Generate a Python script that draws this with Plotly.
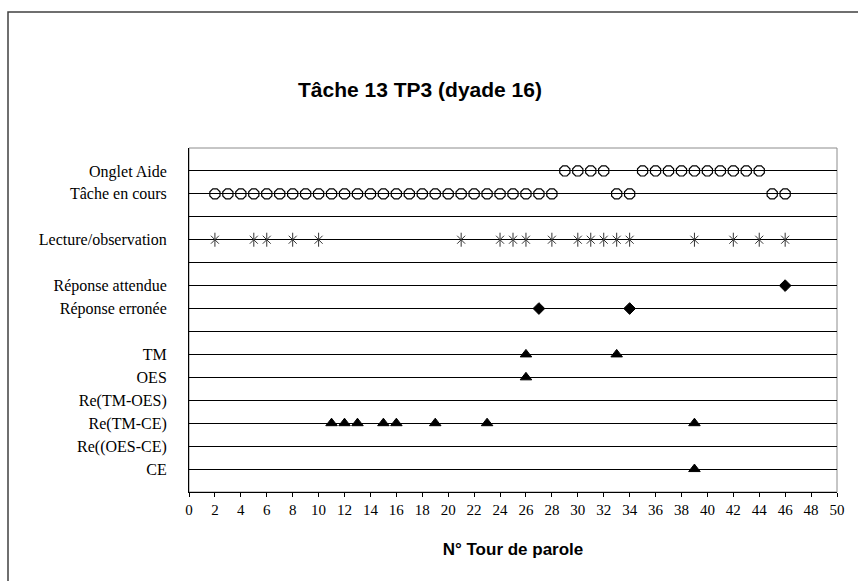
import plotly.graph_objects as go

# Rows of the chart, top to bottom; empty strings are spacer rows
ROWS = [
    "Onglet Aide",
    "Tâche en cours",
    "",
    "Lecture/observation",
    "",
    "Réponse attendue",
    "Réponse erronée",
    "",
    "TM",
    "OES",
    "Re(TM-OES)",
    "Re(TM-CE)",
    "Re((OES-CE)",
    "CE",
]

# Speaking turns (N° Tour de parole) at which each event occurs
onglet_aide = [29, 30, 31, 32, 35, 36, 37, 38, 39, 40, 41, 42, 43, 44]
tache_en_cours = list(range(2, 29)) + [33, 34, 45, 46]
lecture_observation = [2, 5, 6, 8, 10, 21, 24, 25, 26, 28, 30, 31, 32, 33, 34, 39, 42, 44, 46]
reponse_attendue = [46]
reponse_erronee = [27, 34]
tm = [26, 33]
oes = [26]
re_tm_oes = []
re_tm_ce = [11, 12, 13, 15, 16, 19, 23, 39]
re_oes_ce = []
ce = [39]

X_TICKS = list(range(0, 51, 2))

row_y = {name: len(ROWS) - i for i, name in enumerate(ROWS) if name}

W, H = 858, 581
ML, MR, MT, MB = 189, 21, 148, 89
plot_w = W - ML - MR
plot_h = H - MT - MB

fig = go.Figure()


def add_row(xs, row, symbol, size, color="black", line_w=1, line_color=None):
    fig.add_trace(go.Scatter(
        x=xs,
        y=[row_y[row]] * len(xs),
        mode="markers",
        name=row,
        marker=dict(symbol=symbol, size=size, color=color,
                    line=dict(width=line_w, color=line_color or color)),
        showlegend=False,
        hoverinfo="x+name",
    ))


add_row(onglet_aide, "Onglet Aide", "octagon-open", 11, line_w=1.2)
add_row(tache_en_cours, "Tâche en cours", "octagon-open", 11, line_w=1.2)
# six-armed asterisk: an x with a vertical stroke
add_row(lecture_observation, "Lecture/observation", "x-thin-open", 8, color="#333333", line_w=1)
add_row(lecture_observation, "Lecture/observation", "line-ns-open", 10, color="#333333", line_w=1)
add_row(reponse_attendue, "Réponse attendue", "diamond", 9)
add_row(reponse_erronee, "Réponse erronée", "diamond", 9)
add_row(tm, "TM", "triangle-up", 10)
add_row(oes, "OES", "triangle-up", 10)
add_row(re_tm_oes, "Re(TM-OES)", "triangle-up", 10)
add_row(re_tm_ce, "Re(TM-CE)", "triangle-up", 10)
add_row(re_oes_ce, "Re((OES-CE)", "triangle-up", 10)
add_row(ce, "CE", "triangle-up", 10)

serif = "Liberation Serif, Times New Roman, serif"
sans = "Liberation Sans, Arial, sans-serif"

fig.update_layout(
    width=W,
    height=H,
    margin=dict(l=ML, r=MR, t=MT, b=MB, pad=0),
    paper_bgcolor="white",
    plot_bgcolor="white",
    title=dict(
        text="<b>Tâche 13 TP3 (dyade 16)</b>",
        font=dict(family=sans, size=21, color="black"),
        x=420 / W, xref="container", xanchor="center",
        y=1 - 90 / H, yref="container", yanchor="middle",
    ),
    xaxis=dict(
        range=[0, 50],
        tickvals=X_TICKS,
        ticks="outside",
        ticklen=4,
        tickcolor="black",
        showgrid=False,
        zeroline=False,
        showline=True,
        linecolor="black",
        linewidth=1,
        tickfont=dict(family=serif, size=15, color="black"),
        title=dict(text="<b>N° Tour de parole</b>",
                   font=dict(family=sans, size=17, color="black"),
                   standoff=26),
    ),
    yaxis=dict(
        range=[0, len(ROWS) + 1],
        tickvals=[len(ROWS) - i for i in range(len(ROWS))],
        ticktext=ROWS,
        ticks="",
        showgrid=True,
        gridcolor="black",
        gridwidth=1,
        zeroline=False,
        showline=True,
        linecolor="black",
        linewidth=1,
        tickfont=dict(family=serif, size=16, color="black"),
        ticklabelstandoff=18,
    ),
    shapes=[
        # plot-area frame (top and right edges in grey)
        dict(type="rect", xref="x domain", yref="y domain", x0=0, x1=1, y0=0, y1=1,
             line=dict(color="#8c8c8c", width=1), layer="below"),
        # chart frame
        dict(type="rect", xref="paper", yref="paper",
             x0=(8 - ML) / plot_w, x1=(W + 10 - ML) / plot_w,
             y0=(H - MB - (H + 10)) / plot_h, y1=(H - MB - 12) / plot_h,
             line=dict(color="#404040", width=1.5)),
    ],
)

fig.write_html("out.html")
